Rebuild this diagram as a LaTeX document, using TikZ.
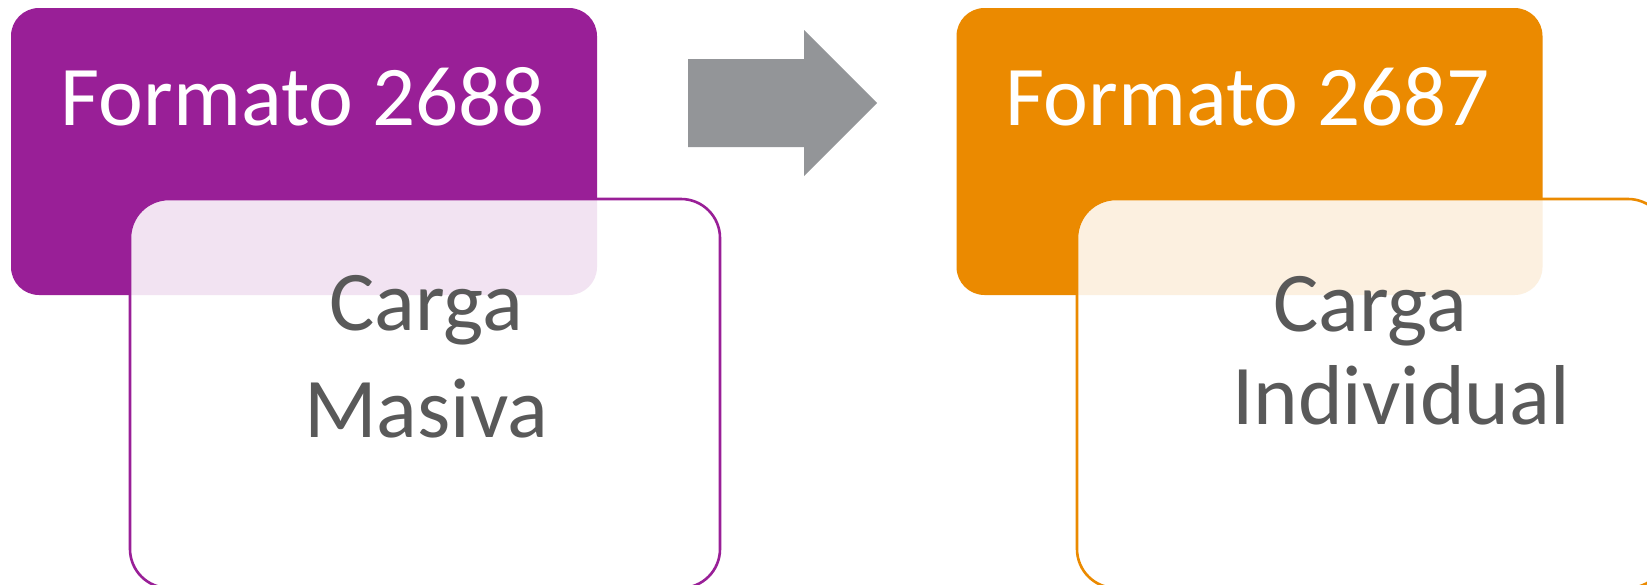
\documentclass[tikz,border=0pt]{standalone}
\usepackage{fontspec}
\setmainfont{Carlito}
\definecolor{purp}{RGB}{153,31,151}
\definecolor{oran}{RGB}{235,138,0}
\definecolor{txtgray}{RGB}{89,89,89}
\definecolor{arrgray}{RGB}{147,149,152}
\tikzset{
  headbox/.style={rounded corners=28pt, minimum width=586pt, minimum height=287pt, inner sep=0pt, draw=none},
  subbox/.style={rounded corners=39pt, minimum width=590pt, minimum height=389pt, inner sep=0pt,
     line width=2.6pt, fill=white, fill opacity=0.88, draw opacity=1, text opacity=1},
  headtxt/.style={anchor=base, inner sep=0pt, text=white, font=\fontsize{85}{100}\selectfont},
  subtxt/.style={anchor=base, inner sep=0pt, text=txtgray, font=\fontsize{85}{100}\selectfont}
}
\begin{document}
\begin{tikzpicture}[x=1pt,y=-1pt]
\useasboundingbox (0,0) rectangle (1647,584);
\clip (0,0) rectangle (1647,584);
\fill[white] (0,0) rectangle (1647,584);
% left group
\node[headbox, fill=purp] (h1) at (304,151.5) {};
\node[subbox, draw=purp] (s1) at (425,393.5) {};
\node[headtxt] (t1) at (303,125) {Formato 2688};
\node[subtxt] (c1) at (426,330) {Carga};
\node[subtxt] (m1) at (426,437) {Masiva};
% arrow
\fill[arrgray] (688,59) -- (804,59) -- (804,30) -- (877,103) -- (804,176) -- (804,147) -- (688,147) -- cycle;
% right group
\node[headbox, fill=oran] (h2) at (1249.5,151.5) {};
\node[subbox, draw=oran] (s2) at (1372,393.5) {};
\node[headtxt] (t2) at (1248,125) {Formato 2687};
\node[subtxt] (c2) at (1370,331) {Carga};
\node[subtxt] (i2) at (1401,424) {Individual};
\end{tikzpicture}
\end{document}
